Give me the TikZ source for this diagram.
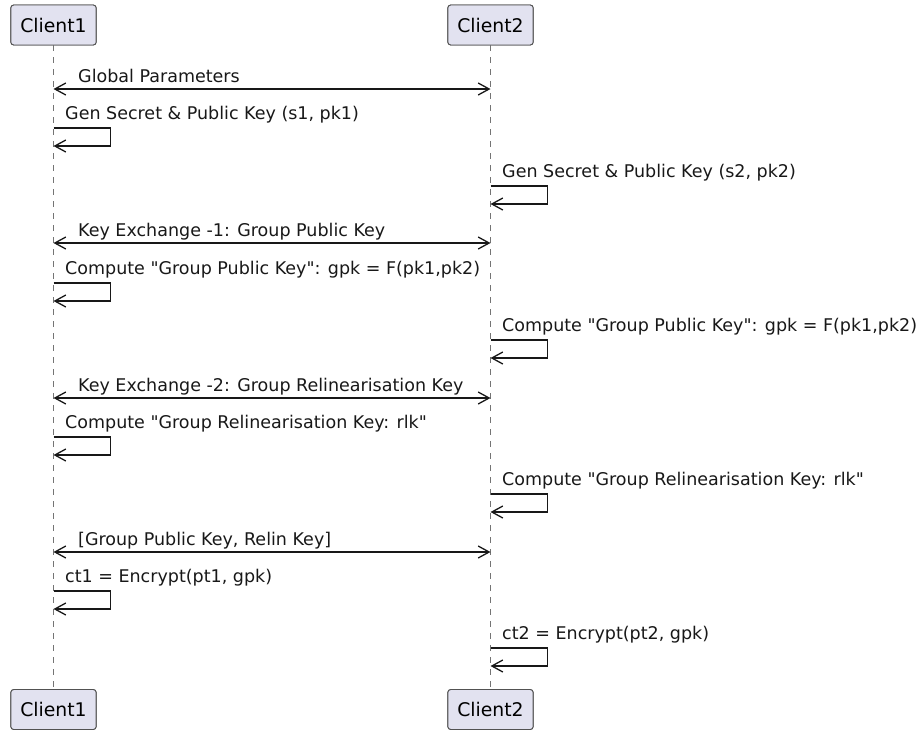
\documentclass[tikz,border=0pt]{standalone}
\usepackage{fontspec}
\setmainfont{DejaVu Sans}[Ligatures=TeXOff]
\usepackage{xcolor}
\usetikzlibrary{arrows.meta}
\definecolor{PartFill}{HTML}{E2E2F0}
\definecolor{SeqDark}{HTML}{181818}
\tikzset{
  partbox/.style={draw=SeqDark!75,fill=PartFill,rounded corners=3pt,minimum height=40pt,inner xsep=9.5pt,font=\fontsize{18.8}{22}\selectfont,line width=0.9pt},
  lifeline/.style={draw=SeqDark!60,dash pattern=on 6pt off 6pt,line width=0.9pt},
  msgarrow/.style={{Straight Barb[length=11pt,width=12pt]}-{Straight Barb[length=11pt,width=12pt]},line width=1.3pt,draw=SeqDark},
  selfarrow/.style={-{Straight Barb[length=11pt,width=12pt]},line width=1.3pt,draw=SeqDark},
  msglabel/.style={anchor=base west,inner sep=0pt,font=\fontsize{17.5}{20}\selectfont,text=SeqDark}
}

\begin{document}
\begin{tikzpicture}[x=1pt,y=-1pt]
\useasboundingbox (0,0) rectangle (922,732);
% participants, top and bottom
\node[partbox] (c1top) at (53.5,25) {Client1};
\node[partbox] (c2top) at (490.5,25) {Client2};
\node[partbox] (c1bot) at (53.5,709.5) {Client1};
\node[partbox] (c2bot) at (490.5,709.5) {Client2};
\draw[lifeline] (c1top) -- (c1bot);
\draw[lifeline] (c2top) -- (c2bot);
% redraw boxes over the dashes
\node[partbox] at (c1top) {Client1};
\node[partbox] at (c2top) {Client2};
\node[partbox] at (c1bot) {Client1};
\node[partbox] at (c2bot) {Client2};

% exchanges between the two clients
\coordinate (ga) at (53.5,89);   \coordinate (gb) at (490.5,89);
\coordinate (ka) at (53.5,243);  \coordinate (kb) at (490.5,243);
\coordinate (ra) at (53.5,398);  \coordinate (rb) at (490.5,398);
\coordinate (pa) at (53.5,552);  \coordinate (pb) at (490.5,552);
\draw[msgarrow] (ga) -- (gb);
\draw[msgarrow] (ka) -- (kb);
\draw[msgarrow] (ra) -- (rb);
\draw[msgarrow] (pa) -- (pb);
\node[msglabel] (glabel) at (78,82) {Global Parameters};
\node[msglabel] (klabel) at (78,236) {Key Exchange -1: Group Public Key};
\node[msglabel] (rlabel) at (78,391) {Key Exchange -2: Group Relinearisation Key};
\node[msglabel] (plabel) at (78,545) {[Group Public Key, Relin Key]};

% self messages: name/x/y
\foreach \s/\x/\y in {s1/53.5/128,s2/490.5/186,s3/53.5/283,s4/490.5/340,
                      s5/53.5/437,s6/490.5/494,s7/53.5/591,s8/490.5/648}{
  \coordinate (\s a) at (\x,\y);
  \coordinate (\s b) at (\x,\y+18);
  \draw[selfarrow] (\s a) -- ++(57,0) |- (\s b);
}
\node[msglabel] (s1label) at (65,119.5) {Gen Secret \& Public Key (s1, pk1)};
\node[msglabel] (s2label) at (502,177.5) {Gen Secret \& Public Key (s2, pk2)};
\node[msglabel] (s3label) at (65,274.5) {Compute "Group Public Key": gpk = F(pk1,pk2)};
\node[msglabel] (s4label) at (502,331.5) {Compute "Group Public Key": gpk = F(pk1,pk2)};
\node[msglabel] (s5label) at (65,428.5) {Compute "Group Relinearisation Key: rlk"};
\node[msglabel] (s6label) at (502,485.5) {Compute "Group Relinearisation Key: rlk"};
\node[msglabel] (s7label) at (65,582.5) {ct1 = Encrypt(pt1, gpk)};
\node[msglabel] (s8label) at (502,639.5) {ct2 = Encrypt(pt2, gpk)};
\end{tikzpicture}
\end{document}
